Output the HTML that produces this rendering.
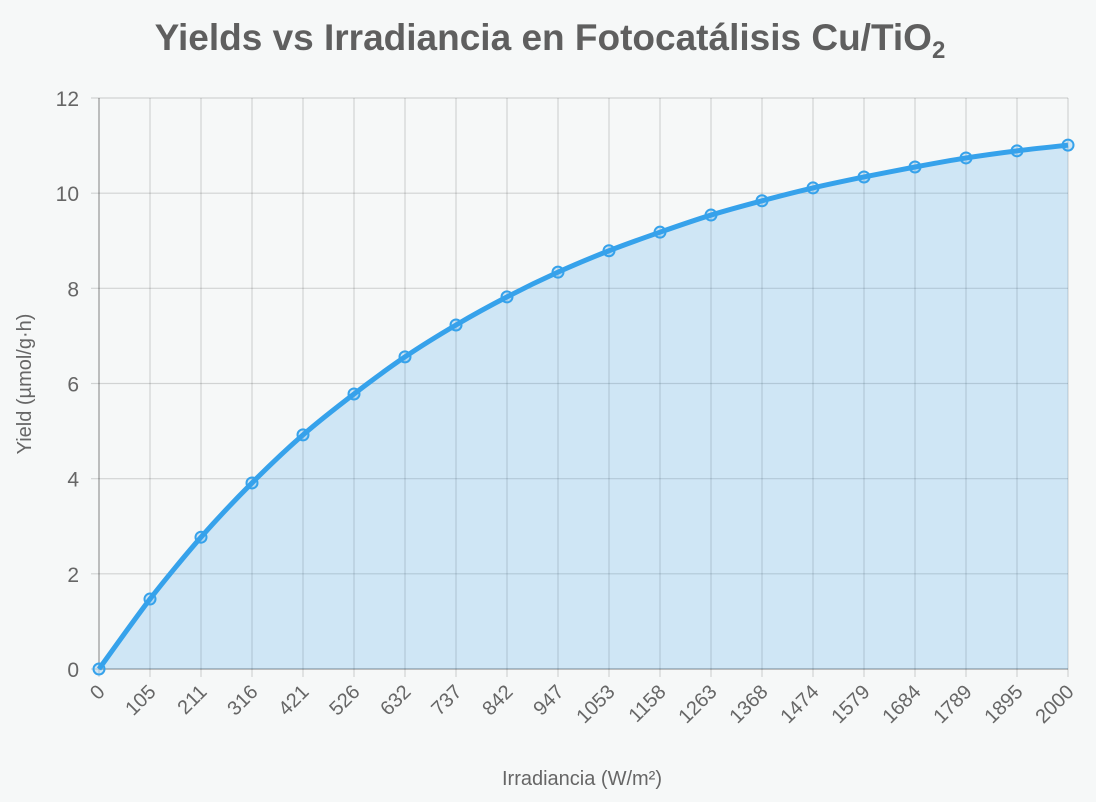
<!DOCTYPE html>
<html><head><meta charset="utf-8"><style>
body{margin:0;background:#f6f8f8;font-family:"Liberation Sans",sans-serif}
svg{display:block}
</style></head><body>
<svg id="c" width="1096" height="802">
<rect width="1096" height="802" fill="#f6f8f8"/>
<text x="550" y="50" text-anchor="middle" font-size="37" font-weight="bold" fill="#5f5f5f">Yields vs Irradiancia en Fotocatálisis Cu/TiO<tspan font-size="24" dy="8">2</tspan></text>
<text x="582" y="785" text-anchor="middle" font-size="20" fill="#666">Irradiancia (W/m²)</text>
<text transform="translate(31,384) rotate(-90)" text-anchor="middle" font-size="20" fill="#666">Yield (µmol/g·h)</text>
<g id="grid"></g><g id="marks"></g><g id="labels"></g>
</svg>
<script>
const categories=[0,105,211,316,421,526,632,737,842,947,1053,1158,1263,1368,1474,1579,1684,1789,1895,2000];
const yields=[0,1.47,2.77,3.91,4.92,5.78,6.56,7.23,7.82,8.34,8.79,9.18,9.54,9.84,10.11,10.34,10.55,10.74,10.89,11.01];
const yTicks=[0,2,4,6,8,10,12];
const NS='http://www.w3.org/2000/svg';
const L=99,R=1068,T=98,B=669;
const xs=i=>L+i*(R-L)/(categories.length-1);
const ys=v=>B-v*(B-T)/12;
function mk(t,a,p){const e=document.createElementNS(NS,t);for(const k in a)e.setAttribute(k,a[k]);p.appendChild(e);return e;}
const g=document.getElementById('grid'),m=document.getElementById('marks'),lb=document.getElementById('labels');
yTicks.forEach(v=>{
 const l=mk('line',{x1:L-8,x2:R,y1:ys(v),y2:ys(v),stroke:'rgba(0,0,0,0.15)','stroke-width':1.2},g);
 
 
 const t=mk('text',{x:L-20,y:ys(v)+8,'text-anchor':'end','font-size':21,fill:'#666'},lb);
 t.textContent=v;
 
 
});
categories.forEach((c,i)=>{
 const l=mk('line',{x1:xs(i),x2:xs(i),y1:T,y2:B+8,stroke:'rgba(0,0,0,0.15)','stroke-width':1.2},g);
 
 
 const x=xs(i)+7,y=B+24;
 const t=mk('text',{x:x,y:y,'text-anchor':'end','font-size':20,fill:'#666',transform:`rotate(-45 ${x} ${y})`},lb);
 t.textContent=c;
 
 
});
mk('line',{x1:L,x2:L,y1:T,y2:B,stroke:'rgba(0,0,0,0.22)','stroke-width':1.5},g);
mk('line',{x1:L,x2:R,y1:B,y2:B,stroke:'rgba(0,0,0,0.22)','stroke-width':1.5},g);
const pts=yields.map((v,i)=>[xs(i),ys(v)]);
let d='M'+pts[0].join(',');
for(let i=0;i<pts.length-1;i++){
 const p0=pts[Math.max(0,i-1)],p1=pts[i],p2=pts[i+1],p3=pts[Math.min(pts.length-1,i+2)],k=0.4/3;
 d+=` C${p1[0]+(p2[0]-p0[0])*k},${p1[1]+(p2[1]-p0[1])*k} ${p2[0]-(p3[0]-p1[0])*k},${p2[1]-(p3[1]-p1[1])*k} ${p2[0]},${p2[1]}`;
}
const area=mk('path',{d:d+` L${xs(pts.length-1)},${B} L${L},${B} Z`,fill:'rgba(54,162,235,0.2)'},m);


const line=mk('path',{d:d,fill:'none',stroke:'#36a2eb','stroke-width':5},m);


pts.forEach(p=>{
 const c=mk('circle',{cx:p[0],cy:p[1],r:5.5,fill:'rgba(54,162,235,0.2)',stroke:'#36a2eb','stroke-width':2},m);
 
 
});
</script>
</body></html>
